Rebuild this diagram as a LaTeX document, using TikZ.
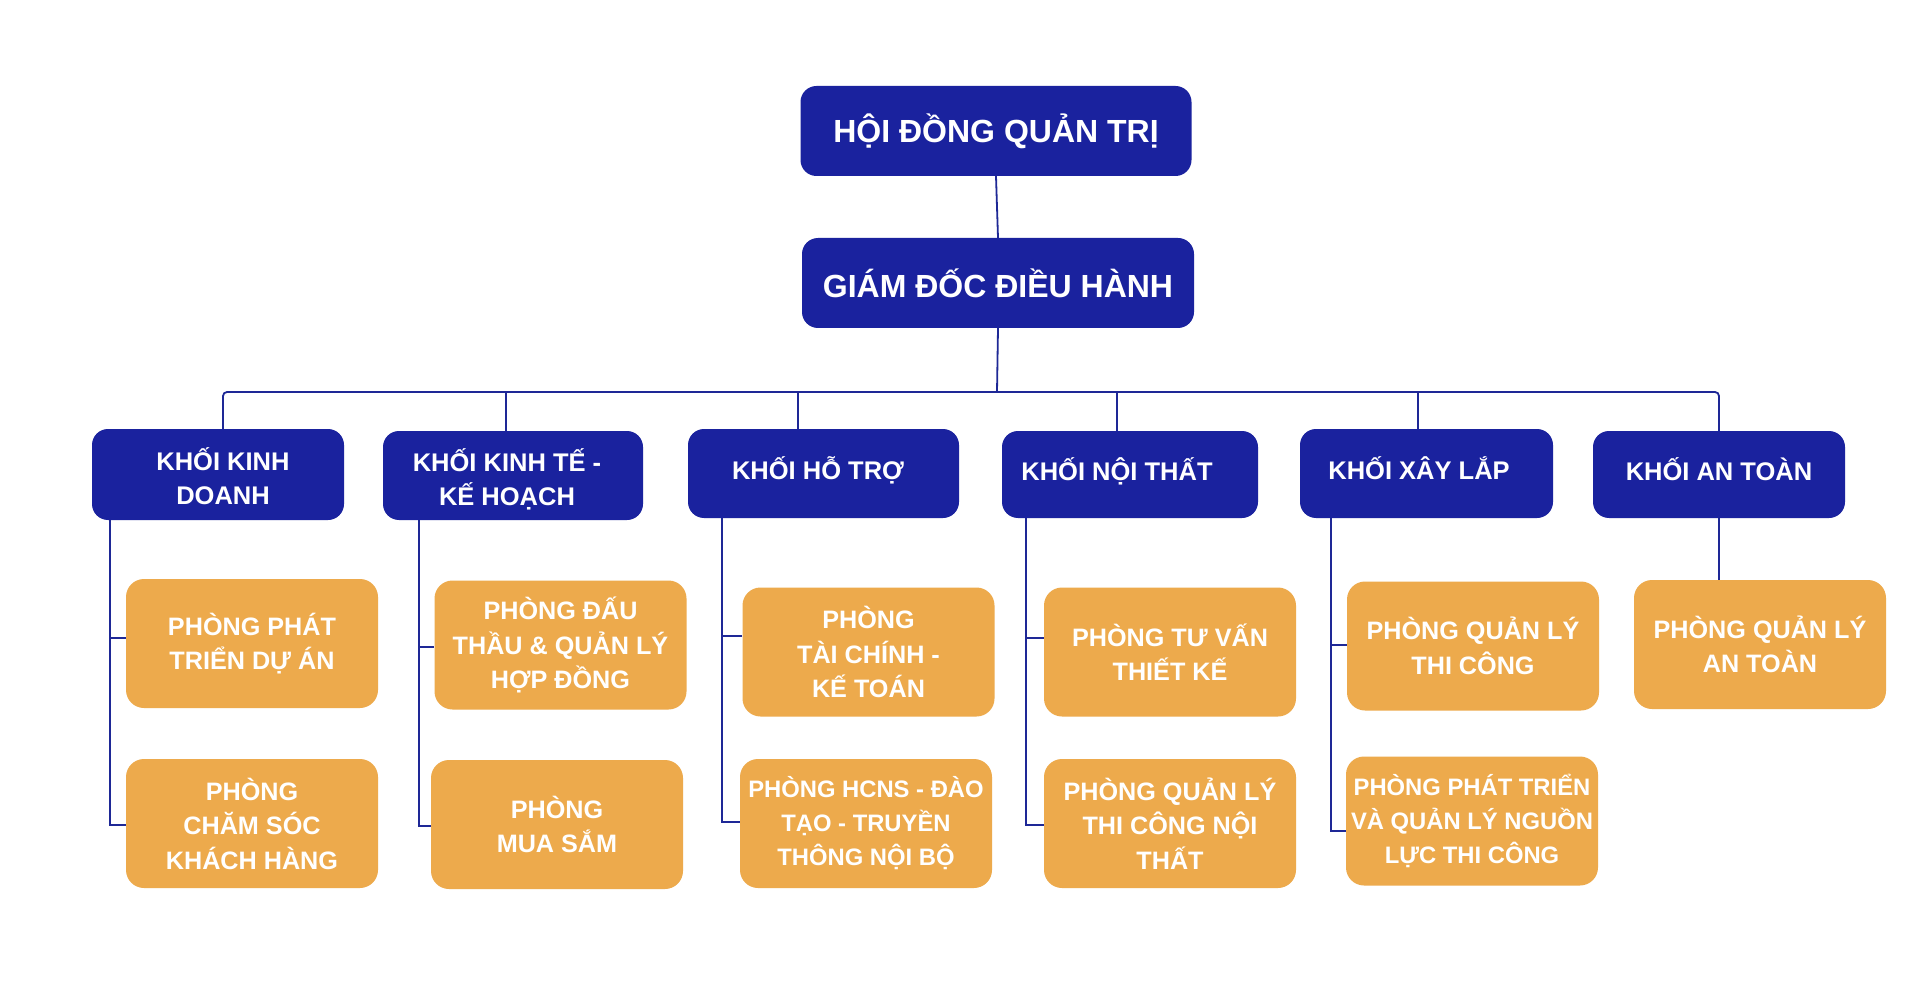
\documentclass[tikz,border=0pt]{standalone}
\usepackage{fontspec}
\setmainfont{Liberation Sans}
\definecolor{navy}{RGB}{26,34,158}
\definecolor{orng}{RGB}{237,170,76}
\definecolor{linec}{RGB}{30,40,150}
% shift a (possibly multi-line) label inside its box: #1 = twice the x shift, #2 = lift
\newcommand\nudgetext[3]{\makebox[0pt]{\hspace*{#1}\raisebox{#2}[\height][\depth]{\begin{tabular}{@{}c@{}}#3\end{tabular}}}}
\begin{document}
\begin{tikzpicture}[x=1pt,y=-1pt,
  topbox/.style={fill=navy, rounded corners=16pt, text=white, font=\bfseries\fontsize{32}{36}\selectfont, minimum height=90pt, inner sep=0pt},
  blockbox/.style={fill=navy, rounded corners=16pt, text=white, font=\bfseries\fontsize{25.5}{34.5}\selectfont, inner sep=0pt},
  deptbox/.style={fill=orng, rounded corners=18pt, text=white, font=\bfseries\fontsize{25.2}{34.5}\selectfont, align=center, minimum width=252pt, minimum height=129pt, inner sep=0pt},
  smalltext/.style={font=\bfseries\fontsize{23.8}{34}\selectfont},
  conn/.style={draw=linec, line width=1.8pt}]
\useasboundingbox (0,0) rectangle (1920,1000);
\fill[white] (0,0) rectangle (1920,1000);

% top
\node[topbox, minimum width=391pt] (hd) at (996,131) {HỘI ĐỒNG QUẢN TRỊ};
\node[topbox, minimum width=392pt] (gd) at (998,283) {GIÁM ĐỐC ĐIỀU HÀNH};

% blocks
\node[blockbox, minimum width=252pt, minimum height=91pt] (k1) at (218,474.5) {\nudgetext{10pt}{-6pt}{KHỐI KINH\\DOANH}};
\node[blockbox, minimum width=260pt, minimum height=89pt] (k2) at (513,475.5) {\nudgetext{-12pt}{-6pt}{KHỐI KINH TẾ -\\KẾ HOẠCH}};
\node[blockbox, minimum width=271pt, minimum height=89pt] (k3) at (823.5,473.5) {\nudgetext{-11pt}{1pt}{KHỐI HỖ TRỢ}};
\node[blockbox, minimum width=256pt, minimum height=87pt] (k4) at (1130,474.5) {\nudgetext{-26pt}{1pt}{KHỐI NỘI THẤT}};
\node[blockbox, minimum width=253pt, minimum height=89pt] (k5) at (1426.5,473.5) {\nudgetext{-15pt}{1pt}{KHỐI XÂY LẮP}};
\node[blockbox, minimum width=252pt, minimum height=87pt] (k6) at (1719,474.5) {\nudgetext{0pt}{1pt}{KHỐI AN TOÀN}};

% departments
\node[deptbox] (a1) at (252,643.5) {PHÒNG PHÁT\\TRIỂN DỰ ÁN};
\node[deptbox] (a2) at (252,823.5) {PHÒNG\\CHĂM SÓC\\KHÁCH HÀNG};
\node[deptbox] (b1) at (560.5,645) {PHÒNG ĐẤU\\THẦU \& QUẢN LÝ\\HỢP ĐỒNG};
\node[deptbox] (b2) at (557,824.5) {PHÒNG\\MUA SẮM};
\node[deptbox] (c1) at (868.5,652) {PHÒNG\\TÀI CHÍNH -\\KẾ TOÁN};
\node[deptbox, smalltext] (c2) at (866,823.5) {PHÒNG HCNS - ĐÀO\\TẠO - TRUYỀN\\THÔNG NỘI BỘ};
\node[deptbox] (d1) at (1170,652) {PHÒNG TƯ VẤN\\THIẾT KẾ};
\node[deptbox] (d2) at (1170,823.5) {PHÒNG QUẢN LÝ\\THI CÔNG NỘI\\THẤT};
\node[deptbox] (e1) at (1473,646) {PHÒNG QUẢN LÝ\\THI CÔNG};
\node[deptbox, smalltext] (e2) at (1472,821) {PHÒNG PHÁT TRIỂN\\VÀ QUẢN LÝ NGUỒN\\LỰC THI CÔNG};
\node[deptbox] (f1) at (1760,644.5) {PHÒNG QUẢN LÝ\\AN TOÀN};

% connectors top
\draw[conn] (hd.south) -- (gd.north);
\coordinate (bus) at (997,392);
\draw[conn] (gd.south) -- (bus);
\coordinate (b1c) at (223,392);
\coordinate (b2c) at (506,392);
\coordinate (b3c) at (798,392);
\coordinate (b4c) at (1117,392);
\coordinate (b5c) at (1418,392);
\coordinate (b6c) at (1719,392);
\draw[conn, rounded corners=4pt] (b1c |- k1.north) -- (b1c) -- (b6c) -- (k6.north);
\draw[conn] (b2c) -- (b2c |- k2.north);
\draw[conn] (b3c) -- (b3c |- k3.north);
\draw[conn] (b4c) -- (b4c |- k4.north);
\draw[conn] (b5c) -- (b5c |- k5.north);

% spines
\coordinate (s1) at (110,0);
\coordinate (s2) at (419,0);
\coordinate (s3) at (722,0);
\coordinate (s4) at (1026,0);
\coordinate (s5) at (1331,0);
\draw[conn] (s1 |- k1.south) |- ([yshift=5.5pt]a1.west);
\draw[conn] (s1 |- k1.south) |- ([yshift=-1.5pt]a2.west);
\draw[conn] (s2 |- k2.south) |- ([yshift=-2pt]b1.west);
\draw[conn] (s2 |- k2.south) |- ([yshift=-1.5pt]b2.west);
\draw[conn] (s3 |- k3.south) |- ([yshift=16pt]c1.west);
\draw[conn] (s3 |- k3.south) |- ([yshift=1.5pt]c2.west);
\draw[conn] (s4 |- k4.south) |- ([yshift=14pt]d1.west);
\draw[conn] (s4 |- k4.south) |- ([yshift=-1.5pt]d2.west);
\draw[conn] (s5 |- k5.south) |- ([yshift=1pt]e1.west);
\draw[conn] (s5 |- k5.south) |- ([yshift=-10pt]e2.west);
\draw[conn] (k6.south) -- (k6.south |- f1.north);
\end{tikzpicture}
\end{document}
